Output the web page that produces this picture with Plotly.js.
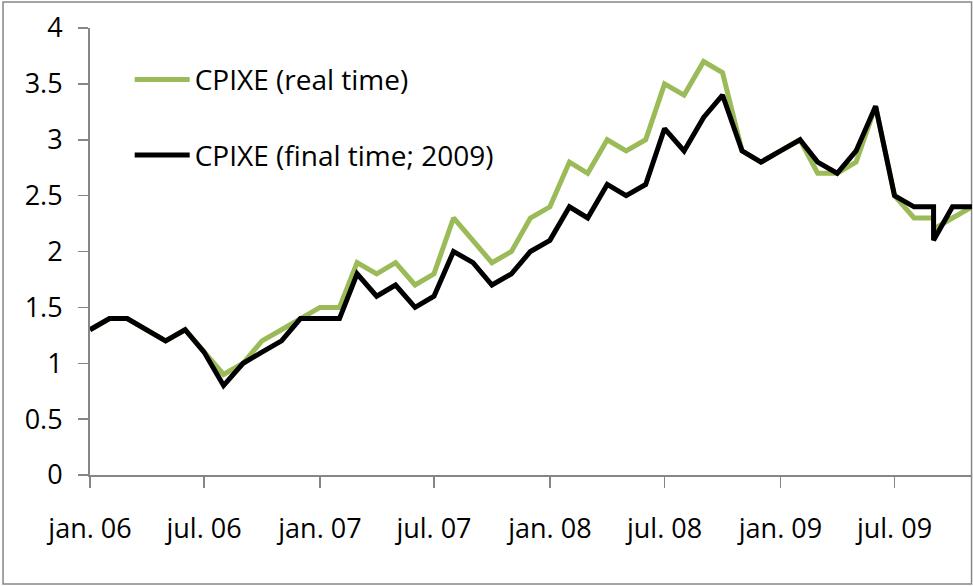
<!DOCTYPE html>
<html>
<head>
<meta charset="utf-8">
<script src="https://cdn.plot.ly/plotly-3.0.1.min.js"></script>
<style>
  html, body { margin: 0; padding: 0; background: #fff; }
  #chart { width: 973px; height: 586px; }
</style>
</head>
<body>
<div id="chart"></div>
<script>
// Monthly dates (Sep 2009 appears twice in the source data)
const dates = [
  '2006-01-01','2006-02-01','2006-03-01','2006-04-01','2006-05-01','2006-06-01',
  '2006-07-01','2006-08-01','2006-09-01','2006-10-01','2006-11-01','2006-12-01',
  '2007-01-01','2007-02-01','2007-03-01','2007-04-01','2007-05-01','2007-06-01',
  '2007-07-01','2007-08-01','2007-09-01','2007-10-01','2007-11-01','2007-12-01',
  '2008-01-01','2008-02-01','2008-03-01','2008-04-01','2008-05-01','2008-06-01',
  '2008-07-01','2008-08-01','2008-09-01','2008-10-01','2008-11-01','2008-12-01',
  '2009-01-01','2009-02-01','2009-03-01','2009-04-01','2009-05-01','2009-06-01',
  '2009-07-01','2009-08-01','2009-09-01','2009-09-01','2009-10-01','2009-11-01'
];

const cpixeRealTime = [
  1.3, 1.4, 1.4, 1.3, 1.2, 1.3, 1.1, 0.9, 1.0, 1.2, 1.3, 1.4,
  1.5, 1.5, 1.9, 1.8, 1.9, 1.7, 1.8, 2.3, 2.1, 1.9, 2.0, 2.3,
  2.4, 2.8, 2.7, 3.0, 2.9, 3.0, 3.5, 3.4, 3.7, 3.6, 2.9, 2.8,
  2.9, 3.0, 2.7, 2.7, 2.8, 3.3, 2.5, 2.3, 2.3, 2.2, 2.3, 2.4
];

const cpixeFinal = [
  1.3, 1.4, 1.4, 1.3, 1.2, 1.3, 1.1, 0.8, 1.0, 1.1, 1.2, 1.4,
  1.4, 1.4, 1.8, 1.6, 1.7, 1.5, 1.6, 2.0, 1.9, 1.7, 1.8, 2.0,
  2.1, 2.4, 2.3, 2.6, 2.5, 2.6, 3.1, 2.9, 3.2, 3.4, 2.9, 2.8,
  2.9, 3.0, 2.8, 2.7, 2.9, 3.3, 2.5, 2.4, 2.4, 2.1, 2.4, 2.4
];

const seriesNames = ['CPIXE (real time)', 'CPIXE (final time; 2009)'];
const tickDates = ['2006-01-01','2006-07-01','2007-01-01','2007-07-01',
                   '2008-01-01','2008-07-01','2009-01-01','2009-07-01'];
const tickLabels = ['jan. 06','jul. 06','jan. 07','jul. 07',
                    'jan. 08','jul. 08','jan. 09','jul. 09'];
const xRange = ['2006-01-01', '2009-11-01'];
const yRange = [0, 4];

const axisGray = '#868686';
const fontFamily = '"Open Sans", "Noto Sans", sans-serif';

const traces = [
  {
    x: dates, y: cpixeRealTime, name: seriesNames[0], type: 'scatter', mode: 'lines',
    line: { color: '#9BBB59', width: 5 }, legendgroup: 'a'
  },
  {
    x: dates, y: cpixeFinal, name: seriesNames[1], type: 'scatter', mode: 'lines',
    line: { color: '#000000', width: 5 }, legendgroup: 'b'
  }
];

const layout = {
  width: 973, height: 586,
  margin: { l: 90, r: 1, t: 28, b: 111 },
  paper_bgcolor: '#ffffff', plot_bgcolor: '#ffffff',
  font: { family: fontFamily, color: '#000000', size: 27 },
  showlegend: true,
  legend: {
    x: 0.045, y: 0.94, xanchor: 'left', yanchor: 'top',
    bgcolor: 'rgba(0,0,0,0)', borderwidth: 0,
    font: { family: fontFamily, size: 28, color: '#000000' },
    traceorder: 'grouped', tracegroupgap: 36, itemwidth: 55
  },
  xaxis: {
    type: 'date', range: xRange,
    tickmode: 'array', tickvals: tickDates, ticktext: tickLabels,
    showline: true, linecolor: axisGray, linewidth: 2,
    ticks: 'outside', ticklen: 11, tickwidth: 1.5, tickcolor: axisGray,
    showgrid: false, zeroline: false, ticklabelstandoff: 18,
    tickfont: { family: fontFamily, size: 27, color: '#000000' },
    fixedrange: true
  },
  yaxis: {
    range: yRange, dtick: 0.5, tick0: 0,
    showline: true, linecolor: axisGray, linewidth: 2,
    ticks: 'outside', ticklen: 10, tickwidth: 1.5, tickcolor: axisGray,
    showgrid: false, zeroline: false, ticklabelstandoff: 10,
    tickfont: { family: fontFamily, size: 27, color: '#000000' },
    fixedrange: true
  },
  shapes: [
    {
      type: 'rect', xref: 'paper', yref: 'paper',
      x0: -0.0986, x1: 0.9995, y0: -0.2438, y1: 1.058,
      line: { color: axisGray, width: 1.5 }, fillcolor: 'rgba(0,0,0,0)', layer: 'below'
    }
  ]
};

Plotly.newPlot('chart', traces, layout, { displayModeBar: false, staticPlot: true });
</script>
</body>
</html>
